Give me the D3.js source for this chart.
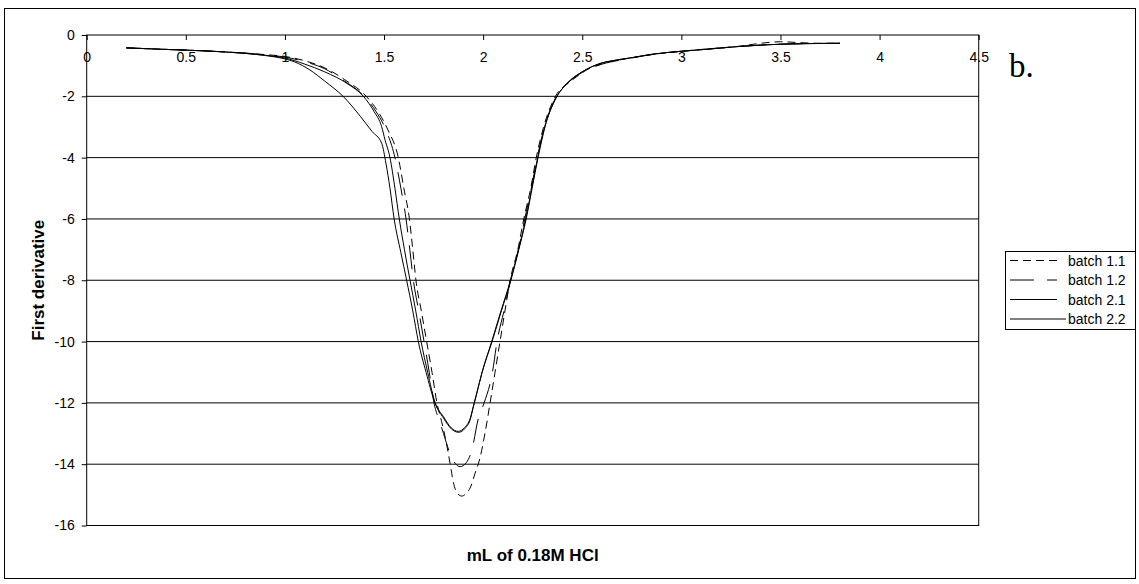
<!DOCTYPE html>
<html>
<head>
<meta charset="utf-8">
<script src="https://cdn.jsdelivr.net/npm/d3@7/dist/d3.min.js"></script>
<style>
  html, body { margin: 0; padding: 0; background: #fff; }
  svg { display: block; }
  .sans { font-family: Arial, "Liberation Sans", sans-serif; fill: #000; }
  .serif { font-family: "Liberation Serif", "Times New Roman", serif; fill: #000; }
</style>
</head>
<body>
<svg id="chart" width="1139" height="584"></svg>
<script>
// First-derivative titration curves, four batches
const seriesNames = ["batch 1.1", "batch 1.2", "batch 2.1", "batch 2.2"];
const seriesDash = ["8,5", "24,13", null, null];

const batch11 = [
  [0.2,-0.42],[0.4,-0.47],[0.6,-0.52],[0.8,-0.59],[0.9,-0.64],[1.0,-0.7],[1.1,-0.84],[1.2,-1.07],
  [1.3,-1.45],[1.41,-2.0],[1.47,-2.5],[1.52,-3.1],[1.572,-4.0],[1.60,-5.0],[1.628,-6.0],[1.645,-7.0],
  [1.661,-8.0],[1.688,-9.0],[1.715,-10.0],[1.742,-11.0],[1.767,-12.0],[1.79,-12.6],[1.808,-13.1],
  [1.833,-13.97],[1.85,-14.6],[1.87,-14.95],[1.892,-15.04],[1.915,-14.95],[1.934,-14.78],[1.959,-14.3],
  [1.984,-13.8],[2.009,-13.0],[2.035,-12.0],[2.06,-11.0],[2.085,-10.0],[2.11,-9.0],[2.136,-8.0],
  [2.175,-7.0],[2.205,-6.0],[2.24,-5.0],[2.268,-4.0],[2.305,-3.0],[2.365,-2.0],[2.44,-1.52],[2.52,-1.15],
  [2.6,-0.93],[2.7,-0.8],[2.85,-0.64],[3.0,-0.53],[3.1,-0.47],[3.3,-0.36],[3.4,-0.27],[3.5,-0.22],
  [3.6,-0.25],[3.7,-0.27],[3.8,-0.27]
];
const batch12 = [
  [0.2,-0.42],[0.4,-0.47],[0.6,-0.52],[0.8,-0.59],[0.9,-0.65],[1.0,-0.72],[1.1,-0.87],[1.2,-1.1],
  [1.3,-1.5],[1.40,-2.0],[1.46,-2.5],[1.51,-3.1],[1.555,-4.0],[1.585,-5.0],[1.611,-6.0],[1.63,-7.0],
  [1.648,-8.0],[1.675,-9.0],[1.702,-10.0],[1.728,-11.0],[1.752,-12.0],[1.78,-12.6],[1.80,-13.0],
  [1.83,-13.6],[1.86,-13.98],[1.884,-14.08],[1.915,-13.95],[1.943,-13.54],[1.976,-12.5],[2.005,-12.0],
  [2.047,-11.0],[2.07,-10.0],[2.105,-9.0],[2.138,-8.0],[2.178,-7.0],[2.21,-6.0],[2.243,-5.0],
  [2.273,-4.0],[2.31,-3.0],[2.37,-2.0],[2.43,-1.55],[2.5,-1.22],[2.6,-0.95],[2.7,-0.81],[2.85,-0.64],
  [3.0,-0.53],[3.1,-0.48],[3.3,-0.37],[3.5,-0.3],[3.65,-0.28],[3.8,-0.27]
];
const batch21 = [
  [0.2,-0.42],[0.4,-0.47],[0.6,-0.52],[0.8,-0.6],[0.9,-0.66],[1.0,-0.75],[1.1,-0.95],[1.2,-1.2],
  [1.318,-1.6],[1.396,-2.0],[1.45,-2.5],[1.488,-2.99],[1.505,-3.42],[1.53,-4.0],[1.555,-5.0],
  [1.577,-6.0],[1.603,-7.0],[1.631,-8.0],[1.66,-9.0],[1.687,-10.0],[1.72,-11.0],[1.758,-12.0],
  [1.80,-12.45],[1.84,-12.82],[1.874,-12.93],[1.907,-12.8],[1.934,-12.52],[1.953,-12.05],[1.97,-11.62],
  [1.995,-11.0],[2.045,-10.0],[2.092,-9.0],[2.14,-8.0],[2.18,-7.0],[2.217,-6.0],[2.247,-5.0],
  [2.277,-4.0],[2.312,-3.0],[2.362,-2.12],[2.42,-1.6],[2.5,-1.2],[2.59,-0.93],[2.67,-0.82],
  [2.76,-0.73],[2.85,-0.63],[3.0,-0.53],[3.1,-0.48],[3.3,-0.37],[3.5,-0.3],[3.65,-0.28],[3.8,-0.27]
];
const batch22 = [
  [0.2,-0.42],[0.4,-0.47],[0.6,-0.52],[0.8,-0.6],[0.9,-0.67],[1.0,-0.78],[1.05,-0.88],[1.126,-1.14],
  [1.2,-1.5],[1.295,-2.01],[1.38,-2.65],[1.44,-3.15],[1.488,-3.53],[1.51,-4.2],[1.53,-5.0],[1.551,-6.0],
  [1.585,-7.1],[1.614,-8.0],[1.645,-9.0],[1.673,-10.0],[1.712,-11.0],[1.757,-12.0],[1.80,-12.5],
  [1.84,-12.85],[1.876,-12.96],[1.909,-12.83],[1.934,-12.56],[1.951,-12.12],[1.968,-11.69],
  [1.993,-11.04],[2.043,-10.0],[2.09,-9.0],[2.138,-8.0],[2.178,-7.0],[2.215,-6.0],[2.245,-5.0],
  [2.275,-4.0],[2.31,-3.0],[2.36,-2.15],[2.42,-1.6],[2.5,-1.2],[2.59,-0.93],[2.67,-0.82],[2.76,-0.73],
  [2.85,-0.63],[3.0,-0.53],[3.1,-0.48],[3.3,-0.37],[3.5,-0.3],[3.65,-0.28],[3.8,-0.27]
];
const allSeries = [batch11, batch12, batch21, batch22];

const xTicks = [0, 0.5, 1, 1.5, 2, 2.5, 3, 3.5, 4, 4.5];
const yTicks = [0, -2, -4, -6, -8, -10, -12, -14, -16];
const gridValues = [-2, -4, -6, -8, -10, -12, -14];

const svg = d3.select("#chart");
const x = d3.scaleLinear().domain([0, 4.5]).range([86.7, 978.7]);
const y = d3.scaleLinear().domain([-16, 0]).range([525.5, 35]);

// outer frame
svg.append("rect")
  .attr("x", 4.5).attr("y", 8.5).attr("width", 1131).attr("height", 570)
  .attr("fill", "#fff").attr("stroke", "#000").attr("stroke-width", 1);

// horizontal gridlines
svg.append("g").selectAll("line").data(gridValues).join("line")
  .attr("x1", x(0)).attr("x2", x(4.5))
  .attr("y1", d => y(d)).attr("y2", d => y(d))
  .attr("stroke", "#000").attr("stroke-width", 1);

// plot area border
svg.append("rect")
  .attr("x", x(0)).attr("y", y(0))
  .attr("width", x(4.5) - x(0)).attr("height", y(-16) - y(0))
  .attr("fill", "none").attr("stroke", "#000").attr("stroke-width", 1);

// x axis along y = 0, ticks and labels hanging inside the plot
const xAxis = svg.append("g")
  .attr("transform", `translate(0,${y(0)})`)
  .call(d3.axisBottom(x).tickValues(xTicks).tickSize(5).tickPadding(12)
    .tickFormat(d => String(d)));
xAxis.select(".domain").remove();
xAxis.attr("font-size", null).attr("font-family", null);
xAxis.selectAll("text").attr("class", "sans").attr("font-size", 14);
xAxis.selectAll("line").attr("stroke", "#000");

// y axis
const yAxis = svg.append("g")
  .attr("transform", `translate(${x(0)},0)`)
  .call(d3.axisLeft(y).tickValues(yTicks).tickSize(5).tickPadding(7)
    .tickFormat(d => String(d)));
yAxis.select(".domain").remove();
yAxis.attr("font-size", null).attr("font-family", null);
yAxis.selectAll("text").attr("class", "sans").attr("font-size", 14);
yAxis.selectAll("line").attr("stroke", "#000");

// curves
const line = d3.line()
  .x(d => x(d[0])).y(d => y(d[1]))
  .curve(d3.curveMonotoneX);

svg.append("g").selectAll("path").data(allSeries).join("path")
  .attr("d", line)
  .attr("fill", "none")
  .attr("stroke", "#000")
  .attr("stroke-width", 1)
  .attr("stroke-dasharray", (d, i) => seriesDash[i]);

// axis titles
svg.append("text").attr("class", "sans")
  .attr("transform", `translate(44,${(y(0) + y(-16)) / 2}) rotate(-90)`)
  .attr("text-anchor", "middle")
  .attr("font-size", 17).attr("font-weight", "bold")
  .text("First derivative");

svg.append("text").attr("class", "sans")
  .attr("x", (x(0) + x(4.5)) / 2).attr("y", 561)
  .attr("text-anchor", "middle")
  .attr("font-size", 17).attr("font-weight", "bold")
  .text("mL of 0.18M HCl");

// panel letter
svg.append("text").attr("class", "serif")
  .attr("x", 1009).attr("y", 77)
  .attr("font-size", 33)
  .text("b.");

// legend
const legend = svg.append("g");
legend.append("rect")
  .attr("x", 1005.5).attr("y", 251.5).attr("width", 130).attr("height", 78)
  .attr("fill", "#fff").attr("stroke", "#000").attr("stroke-width", 1);

const legendRows = legend.selectAll("g.row").data(seriesNames).join("g")
  .attr("class", "row")
  .attr("transform", (d, i) => `translate(0,${260.5 + i * 19.5})`);
legendRows.append("line")
  .attr("x1", 1010).attr("x2", (d, i) => i === 3 ? 1066 : 1057)
  .attr("y1", 0).attr("y2", 0)
  .attr("stroke", "#000").attr("stroke-width", 1)
  .attr("stroke-dasharray", (d, i) => seriesDash[i]);
legendRows.append("text").attr("class", "sans")
  .attr("x", 1068).attr("y", 5)
  .attr("font-size", 14)
  .text(d => d);
</script>
</body>
</html>
